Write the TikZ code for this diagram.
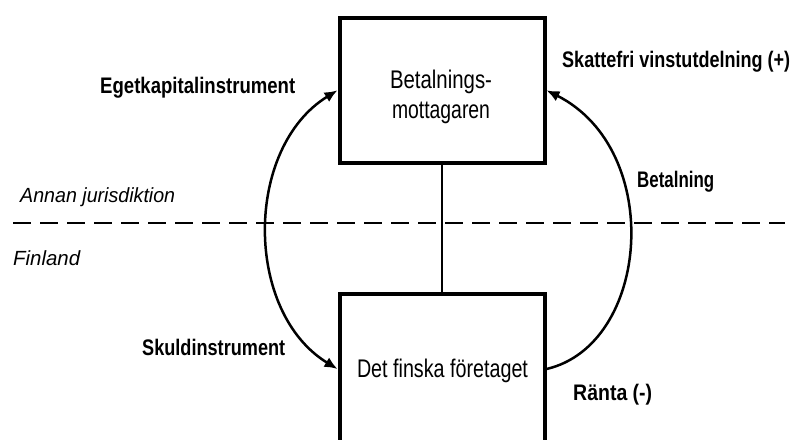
\documentclass[tikz,border=0pt]{standalone}
\usepackage{fontspec}
\setmainfont{Liberation Sans}
\usetikzlibrary{arrows.meta}
\newcommand\fitw[2]{\resizebox{#1}{\height}{#2}}
\begin{document}
\begin{tikzpicture}[x=1pt,y=-1pt,
  >={Latex[length=13pt,width=11pt]},
  box/.style={draw, line width=4pt, minimum width=205pt, inner sep=0pt},
  lbl/.style={anchor=base west, inner sep=0pt, font=\fontsize{22.5}{26}\selectfont\bfseries},
  ital/.style={anchor=base west, inner sep=0pt, font=\fontsize{20.5}{24}\selectfont\itshape},
  boxtxt/.style={anchor=base, inner sep=0pt, font=\fontsize{25.5}{30}\selectfont},
  curve/.style={line width=2.5pt},
  border/.style={line width=2pt, dash pattern=on 18pt off 9pt}]
\useasboundingbox (0,0) rectangle (794,439);
\clip (0,0) rectangle (794,439);
\node[box, minimum height=145.5pt] (top) at (442,90.3) {};
\node[box, minimum height=150pt] (bot) at (442,369) {};
\node[boxtxt] (t1) at (441,88) {\fitw{102pt}{Betalnings-}};
\node[boxtxt] (t2) at (441,118) {\fitw{98pt}{mottagaren}};
\node[boxtxt] (t3) at (442.5,377) {\fitw{171pt}{Det finska företaget}};
\node[lbl] (eget) at (100,93) {\fitw{195pt}{Egetkapitalinstrument}};
\node[lbl] (skatt) at (562,67) {\fitw{228pt}{Skattefri vinstutdelning (+)}};
\node[lbl] (betal) at (637,187) {\fitw{77pt}{Betalning}};
\node[lbl] (skuld) at (142,355) {\fitw{143pt}{Skuldinstrument}};
\node[lbl] (ranta) at (573,400) {\fitw{79pt}{Ränta (-)}};
\node[ital] (annan) at (20,202) {\fitw{155pt}{Annan jurisdiktion}};
\node[ital] (fin) at (13,265) {\fitw{67pt}{Finland}};
\coordinate (dl) at (13,223);
\coordinate (dr) at (785,223);
\draw[border] (dl) -- (dr);
\draw[line width=2pt] (top.south) -- (bot.north);
\draw[curve, <->] (top.west) .. controls (244,148) and (244,312) .. (bot.west);
\draw[curve, ->] (bot.east) .. controls (650,345) and (665,150) .. (top.east);
\end{tikzpicture}
\end{document}
